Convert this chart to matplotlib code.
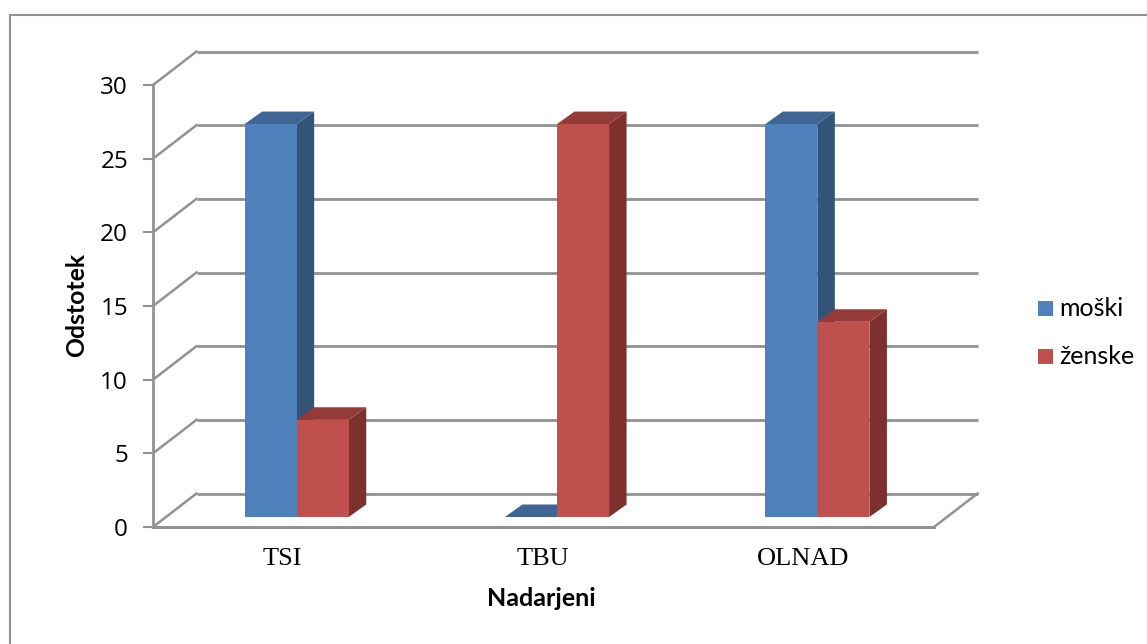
import matplotlib
matplotlib.use("Agg")
import matplotlib.pyplot as plt
from matplotlib.lines import Line2D
from matplotlib.patches import Polygon, Rectangle
from matplotlib.transforms import Affine2D

categories = ["TSI", "TBU", "OLNAD"]
series_names = ["moški", "ženske"]
moski = [26.67, 0, 26.67]
zenske = [6.6, 26.67, 13.25]
y_ticks = [0, 5, 10, 15, 20, 25, 30]

W, H = 1147, 644
fig = plt.figure(figsize=(W / 100, H / 100), dpi=100, facecolor="white")

# front plane of the fake 3D box, in pixels
L, R, B, T = 153, 934, 527, 85
ax = fig.add_axes([L / W, 1 - B / H, (R - L) / W, (B - T) / H])
ax.set_xlim(0, 3)
ax.set_ylim(0, 30)
ax.axis("off")

GREY = "#929292"
SANS = "Lato"
TICK_FONT = "Open Sans"
BACK = (43.5, -33.5)
FACE = (13.5, -10)
D = (17.5, -12.5)
BW = 0.2
COL = {
    0: ("#4F81BD", "#3E6594", "#335379"),
    1: ("#C0504D", "#943A38", "#7D302E"),
}


def off(dx, dy):
    return ax.transData + Affine2D().translate(dx, -dy)


# outer frame: left and top edges only
fig.add_artist(Line2D([10 / W, 10 / W], [0, 1 - 14.5 / H], color=GREY, lw=1.5))
fig.add_artist(Line2D([10 / W, 1], [1 - 14.5 / H] * 2, color=GREY, lw=1.5))

# gridlines on back wall, side-wall diagonals, ticks and tick labels
for v in y_ticks:
    ax.plot([0, 3], [v, v], transform=off(*BACK), color=GREY, lw=2, clip_on=False,
            solid_capstyle="butt", zorder=1)
    p0 = ax.transData.transform((0, v))
    ax.plot([p0[0], p0[0] + BACK[0]], [p0[1], p0[1] - BACK[1]], transform=None,
            color=GREY, lw=1.8, clip_on=False, zorder=1)
    ax.plot([p0[0] - 9, p0[0]], [p0[1], p0[1]], transform=None, color=GREY, lw=1.5,
            clip_on=False, zorder=1)
    ax.text(p0[0] - 25, p0[1], str(v), transform=None, ha="right", va="center_baseline",
            fontsize=17.5, family=TICK_FONT, color="black")

# axis lines on the front plane and floor
ax.plot([0, 0], [0, 30], color=GREY, lw=2, clip_on=False, zorder=1)
ax.plot([0, 3], [0, 0], color=GREY, lw=2.2, clip_on=False, zorder=1)
pr = ax.transData.transform((3, 0))
ax.plot([pr[0], pr[0] + BACK[0]], [pr[1], pr[1] - BACK[1]], transform=None, color=GREY,
        lw=1.8, clip_on=False, zorder=1)


def draw_bar(x0, v, k, z):
    f, t, s = COL[k]
    x1 = x0 + BW
    tr = off(*FACE)
    ux = ax.transData.transform((1, 0))[0] - ax.transData.transform((0, 0))[0]
    uy = ax.transData.transform((0, 1))[1] - ax.transData.transform((0, 0))[1]
    dx, dy = D[0] / ux, -D[1] / uy
    if v > 0:
        ax.add_patch(Polygon([(x1, 0), (x1 + dx, dy), (x1 + dx, v + dy), (x1, v)],
                             transform=tr, fc=s, ec="none", clip_on=False, zorder=z))
    ax.add_patch(Polygon([(x0, v), (x1, v), (x1 + dx, v + dy), (x0 + dx, v + dy)],
                         transform=tr, fc=t, ec="none", clip_on=False, zorder=z))
    if v > 0:
        ax.add_patch(Rectangle((x0, 0), BW, v, transform=tr, fc=f, ec="none",
                               clip_on=False, zorder=z + 0.1))


for i, (m, w) in enumerate(zip(moski, zenske)):
    centre = i + 0.5
    draw_bar(centre - BW, m, 0, 3 + 2 * i)
    draw_bar(centre, w, 1, 4 + 2 * i)
    ax.annotate(categories[i], xy=(centre, 0), xytext=(-1, -32), textcoords="offset pixels",
                ha="center", va="center", fontsize=19, family="Liberation Serif",
                color="black", annotation_clip=False)

# axis titles
fig.text(77 / W, 1 - 305 / H, "Odstotek", rotation=90, ha="center", va="center",
         fontsize=17.8, fontweight="bold", family=SANS, color="black")
fig.text(541.5 / W, 1 - 598 / H, "Nadarjeni", ha="center", va="center",
         fontsize=18, fontweight="bold", family=SANS, color="black")

# legend
for name, col, yc in zip(series_names, ("#4F81BD", "#C0504D"), (308.5, 356.5)):
    fig.add_artist(Rectangle((1038 / W, 1 - (yc + 7.5) / H), 15 / W, 15 / H,
                             transform=fig.transFigure, fc=col, ec="none"))
    fig.text(1059 / W, 1 - yc / H, name, ha="left", va="center", fontsize=18,
             family=SANS, color="black")

fig.savefig("out.png", dpi=100, facecolor="white")
